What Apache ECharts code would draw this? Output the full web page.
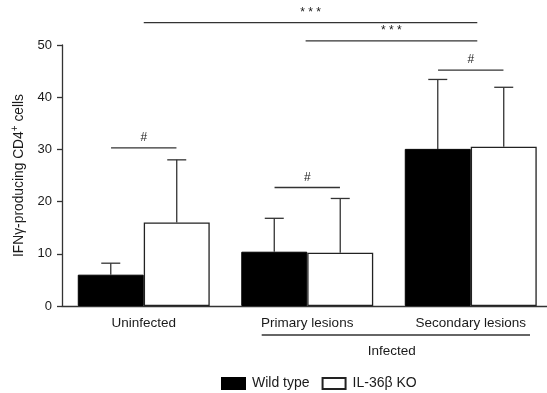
<!DOCTYPE html>
<html>
<head>
<meta charset="utf-8">
<script src="https://cdn.jsdelivr.net/npm/echarts@6/dist/echarts.min.js"></script>
<style>html,body{margin:0;padding:0;background:#fff}#c{width:547px;height:393px}</style>
</head>
<body>
<div id="c"></div>
<script>
// ---- data ----
const categories = ['Uninfected', 'Primary lesions', 'Secondary lesions'];
const wildType = [6.0, 10.4, 30.1];
const wildTypeUpper = [8.2, 16.8, 43.4];
const knockout = [16.0, 10.2, 30.5];
const knockoutUpper = [28.0, 20.6, 41.9];
const yTicks = [0, 10, 20, 30, 40, 50];
// significance brackets: start / end in category units, height in data units
const sigStart = [0, 0.99, 1.8, -0.2, 0.8];
const sigEnd = [2.04, 2.04, 2.2, 0.2, 1.2];
const sigHeight = [54.3, 50.8, 45.2, 30.3, 22.7];
const sigText = ['* * *', '* * *', '#', '#', '#'];

const FONT = '"Liberation Sans", Arial, Helvetica, sans-serif';
const GAP = 0.193;
const chart = echarts.init(document.getElementById('c'));

function errRender(side) {
  return function (params, api) {
    const ci = api.value(0);
    const top = api.coord([ci, api.value(2)]);
    const base = api.coord([ci, api.value(1)]);
    const band = api.size([1, 0])[0];
    const bw = band * (1 - GAP) / 2;
    const x = top[0] + side * bw / 2;
    const cap = 9.5;
    return {
      type: 'group',
      children: [
        { type: 'line', shape: { x1: x, y1: base[1], x2: x, y2: top[1] }, style: { stroke: '#333', lineWidth: 1.3 } },
        { type: 'line', shape: { x1: x - cap, y1: top[1], x2: x + cap, y2: top[1] }, style: { stroke: '#333', lineWidth: 1.3 } }
      ]
    };
  };
}

const sigData = sigStart.map((s, i) => [s, sigEnd[i], sigHeight[i], i]);

chart.setOption({
  animation: false,
  grid: { left: 62, width: 490.5, top: 45, bottom: 87, containLabel: false, outerBoundsMode: 'none' },
  xAxis: {
    type: 'category',
    data: categories,
    axisLine: { lineStyle: { color: '#333', width: 1.3 } },
    axisTick: { show: false },
    axisLabel: { color: '#1a1a1a', fontSize: 13.5, fontFamily: FONT, margin: 10 }
  },
  yAxis: {
    type: 'value',
    min: yTicks[0],
    max: yTicks[yTicks.length - 1],
    interval: 10,
    splitLine: { show: false },
    axisLine: { show: true, lineStyle: { color: '#333', width: 1.3 } },
    axisTick: { show: true, length: 5, lineStyle: { color: '#333', width: 1.3 } },
    axisLabel: { color: '#1a1a1a', fontSize: 13, fontFamily: FONT, margin: 10 },
    name: 'IFNγ-producing CD4{sup|+} cells',
    nameLocation: 'middle',
    nameGap: 24,
    nameTextStyle: {
      color: '#1a1a1a', fontSize: 13.8, fontFamily: FONT,
      rich: { sup: { fontSize: 10, verticalAlign: 'top', padding: [0, 0, 8, 0], color: '#1a1a1a', fontFamily: FONT } }
    }
  },
  legend: {
    left: 221, top: 376.5, padding: 0,
    itemWidth: 23, itemHeight: 11, itemGap: 12,
    textStyle: { color: '#1a1a1a', fontSize: 14, fontFamily: FONT, padding: [0, 0, 0, 2] },
    data: [{ name: 'Wild type', icon: 'rect' }, { name: 'IL-36β KO', icon: 'rect' }]
  },
  series: [
    {
      name: 'Wild type', type: 'bar', data: wildType, barGap: '0%', barCategoryGap: (GAP * 100) + '%',
      itemStyle: { color: '#000', borderColor: '#000', borderWidth: 1 }
    },
    {
      name: 'IL-36β KO', type: 'bar', data: knockout,
      itemStyle: { color: '#fff', borderColor: '#222', borderWidth: 1.3 }
    },
    {
      type: 'custom', z: 5, clip: false, silent: true,
      data: wildType.map((v, i) => [i, v, wildTypeUpper[i]]),
      renderItem: errRender(-1)
    },
    {
      type: 'custom', z: 5, clip: false, silent: true,
      data: knockout.map((v, i) => [i, v, knockoutUpper[i]]),
      renderItem: errRender(1)
    },
    {
      type: 'custom', z: 6, clip: false, silent: true,
      data: sigData,
      renderItem: function (params, api) {
        const y = api.value(2);
        const c0 = api.coord([0, y]);
        const band = api.size([1, 0])[0];
        const x1 = c0[0] + api.value(0) * band;
        const x2 = c0[0] + api.value(1) * band;
        const label = sigText[api.value(3)];
        return {
          type: 'group',
          children: [
            { type: 'line', shape: { x1: x1, y1: c0[1], x2: x2, y2: c0[1] }, style: { stroke: '#333', lineWidth: 1.3 } },
            { type: 'text', style: { text: label, x: (x1 + x2) / 2, y: c0[1] - 4, align: 'center', verticalAlign: 'bottom', fill: '#1a1a1a', font: '12px ' + FONT } }
          ]
        };
      }
    }
  ],
  graphic: [
    { type: 'line', shape: { x1: 261.7, y1: 335, x2: 530, y2: 335 }, style: { stroke: '#333', lineWidth: 1.3 } },
    { type: 'text', x: 391.7, y: 351, style: { text: 'Infected', align: 'center', verticalAlign: 'middle', fill: '#1a1a1a', font: '13.5px ' + FONT } }
  ]
});
</script>
</body>
</html>
